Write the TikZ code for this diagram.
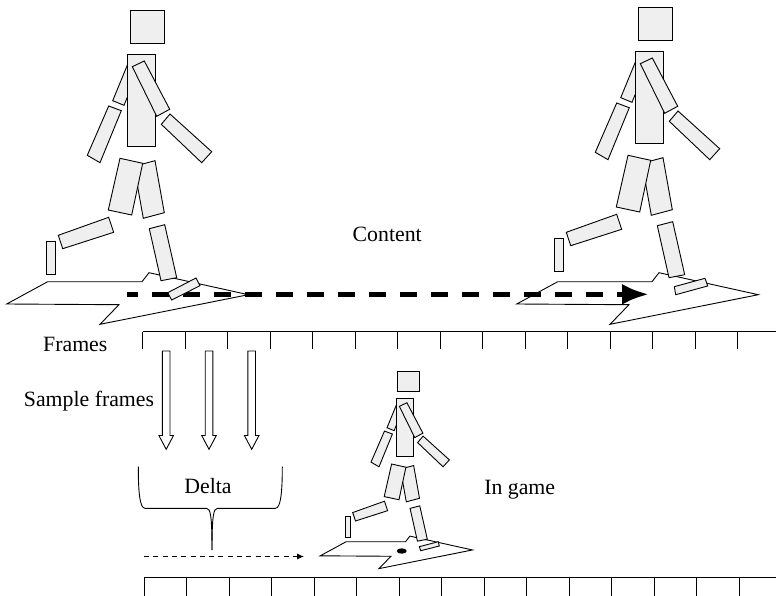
\documentclass[tikz,border=0pt]{standalone}
\usepackage{fontspec}
\setmainfont{Liberation Serif}
\usetikzlibrary{arrows.meta}
\definecolor{limb}{HTML}{EFEFEF}
\tikzset{
  part/.style={draw=black, fill=limb, line width=0.9pt, line join=miter},
  shadowshape/.style={draw=black, fill=white, line width=0.9pt},
  txt/.style={font=\fontsize{21.8}{24}\selectfont, inner sep=0pt, anchor=base},
  tickline/.style={line width=1pt},
  samplearrow/.style={draw=black, fill=white, line width=0.9pt},
  motion/.style={line width=5pt, dash pattern=on 17pt off 14pt, dash phase=6pt,
    -{Latex[length=27pt 0, width=21pt 0]}},
  delta/.style={line width=0.9pt, dash pattern=on 5pt off 4.3pt,
    -{Latex[length=7pt 0, width=6pt 0]}},
  bracket/.style={line width=0.9pt},
}
% footprint-like shadow under a walker
\newcommand\stepshadow{%
  \draw[shadowshape] (6.7,304) -- (47.7,281.7) -- (142,281.7) -- (149,272.7)
    -- (248.3,294.7) -- (100,324.3) -- (119,304.7) -- cycle;}
% walking figure made of boxes; #1-#4 are the corners of the front foot
\newcommand\walkerparts[4]{%
  \draw[part] (46,241.3) rectangle (55,274.3);
  \draw[part] (58.3,235.3) -- (108.7,217.3) -- (113.7,232.3) -- (62.7,248.7) -- cycle;
  \draw[part] (112.7,100.7) -- (129.8,59.1) -- (141.1,63.7) -- (124,105.3) -- cycle;
  \draw[part] (87.3,155.3) -- (108.7,106) -- (121.3,110.7) -- (100,162.7) -- cycle;
  \draw[part] (134,166.3) -- (155,160.7) -- (164.3,212.7) -- (143.3,218.3) -- cycle;
  \draw[part] (120,158.3) -- (142.7,163.3) -- (131.7,215) -- (108.3,210) -- cycle;
  \draw[part] (127,54) rectangle (155.3,146.7);
  \draw[part] (130,10.7) rectangle (164,43.3);
  \draw[part] (132.3,66.7) -- (144.3,61) -- (169.7,109.3) -- (156.7,116.3) -- cycle;
  \draw[part] (161.3,124.3) -- (170,114) -- (211.7,151.7) -- (201.7,162.7) -- cycle;
  \draw[part] (149.3,228.7) -- (164.7,224.7) -- (176.7,277.7) -- (161,280.7) -- cycle;
  \draw[part] #1 -- #2 -- #3 -- #4 -- cycle;}
\begin{document}
\begin{tikzpicture}[x=1pt, y=-1pt]
  \useasboundingbox (0,0) rectangle (776,596);

  % shadows of the two content poses
  \stepshadow
  \begin{scope}[shift={(510,0)}]
    \stepshadow
  \end{scope}

  % motion of the captured content
  \coordinate (mstart) at (126.7,294.3);
  \coordinate (mend) at (649,294.3);
  \draw[motion] (mstart) -- (mend);

  % content poses
  \walkerparts{(167.7,292.7)}{(196,278)}{(200,285.7)}{(171.7,300)}
  \begin{scope}[shift={(508,-3)}]
    \walkerparts{(166.3,289.7)}{(197,281.3)}{(199.7,289)}{(167.7,297.7)}
  \end{scope}

  % in-game pose, scaled down
  \begin{scope}[shift={(316,364.3)}, scale=0.63]
    \stepshadow
    \walkerparts{(164,289.5)}{(194.1,281.6)}{(195.7,288.4)}{(166.2,295.9)}
  \end{scope}
  \fill[black] (401.7,551) ellipse [x radius=5, y radius=2.7];

  % frame timelines
  \draw[tickline] (142.7,331.5) -- (776,331.5);
  \foreach \k in {0,...,14}
    \draw[tickline] (142.7+42.5*\k,331.5) -- (142.7+42.5*\k,349);
  \draw[tickline] (144,577.7) -- (776,577.7);
  \foreach \k in {0,...,14}
    \draw[tickline] (144+42.5*\k,577.7) -- (144+42.5*\k,598);

  % sampled frames
  \foreach \c in {166.2,209,251.7}
    \draw[samplearrow] (\c-3.8,351) -- (\c+3.8,351) -- (\c+3.8,435.5) -- (\c+7.3,435.5)
      -- (\c,449.3) -- (\c-7.3,435.5) -- (\c-3.8,435.5) -- cycle;

  % delta bracket
  \coordinate (btip) at (212,550);
  \draw[bracket] (138.3,466.7) .. controls (138.3,490) and (139.5,508.3) .. (145,508.3)
    -- (206.5,508.3) .. controls (210.5,508.3) and (212,516) .. (btip);
  \draw[bracket] (282.3,466.7) .. controls (282.3,490) and (281,508.3) .. (275.5,508.3)
    -- (217.5,508.3) .. controls (213.5,508.3) and (212,516) .. (btip);

  % in-game motion
  \coordinate (dstart) at (144,556.5);
  \coordinate (dend) at (304,556.5);
  \draw[delta] (dstart) -- (dend);

  % captions
  \node[txt] (content) at (387.2,241.7) {Content};
  \node[txt] (frames) at (75.3,351.7) {Frames};
  \node[txt] (sample) at (89,406) {Sample frames};
  \node[txt] (deltalabel) at (208,493.3) {Delta};
  \node[txt] (ingame) at (519.7,494) {In game};
\end{tikzpicture}
\end{document}
